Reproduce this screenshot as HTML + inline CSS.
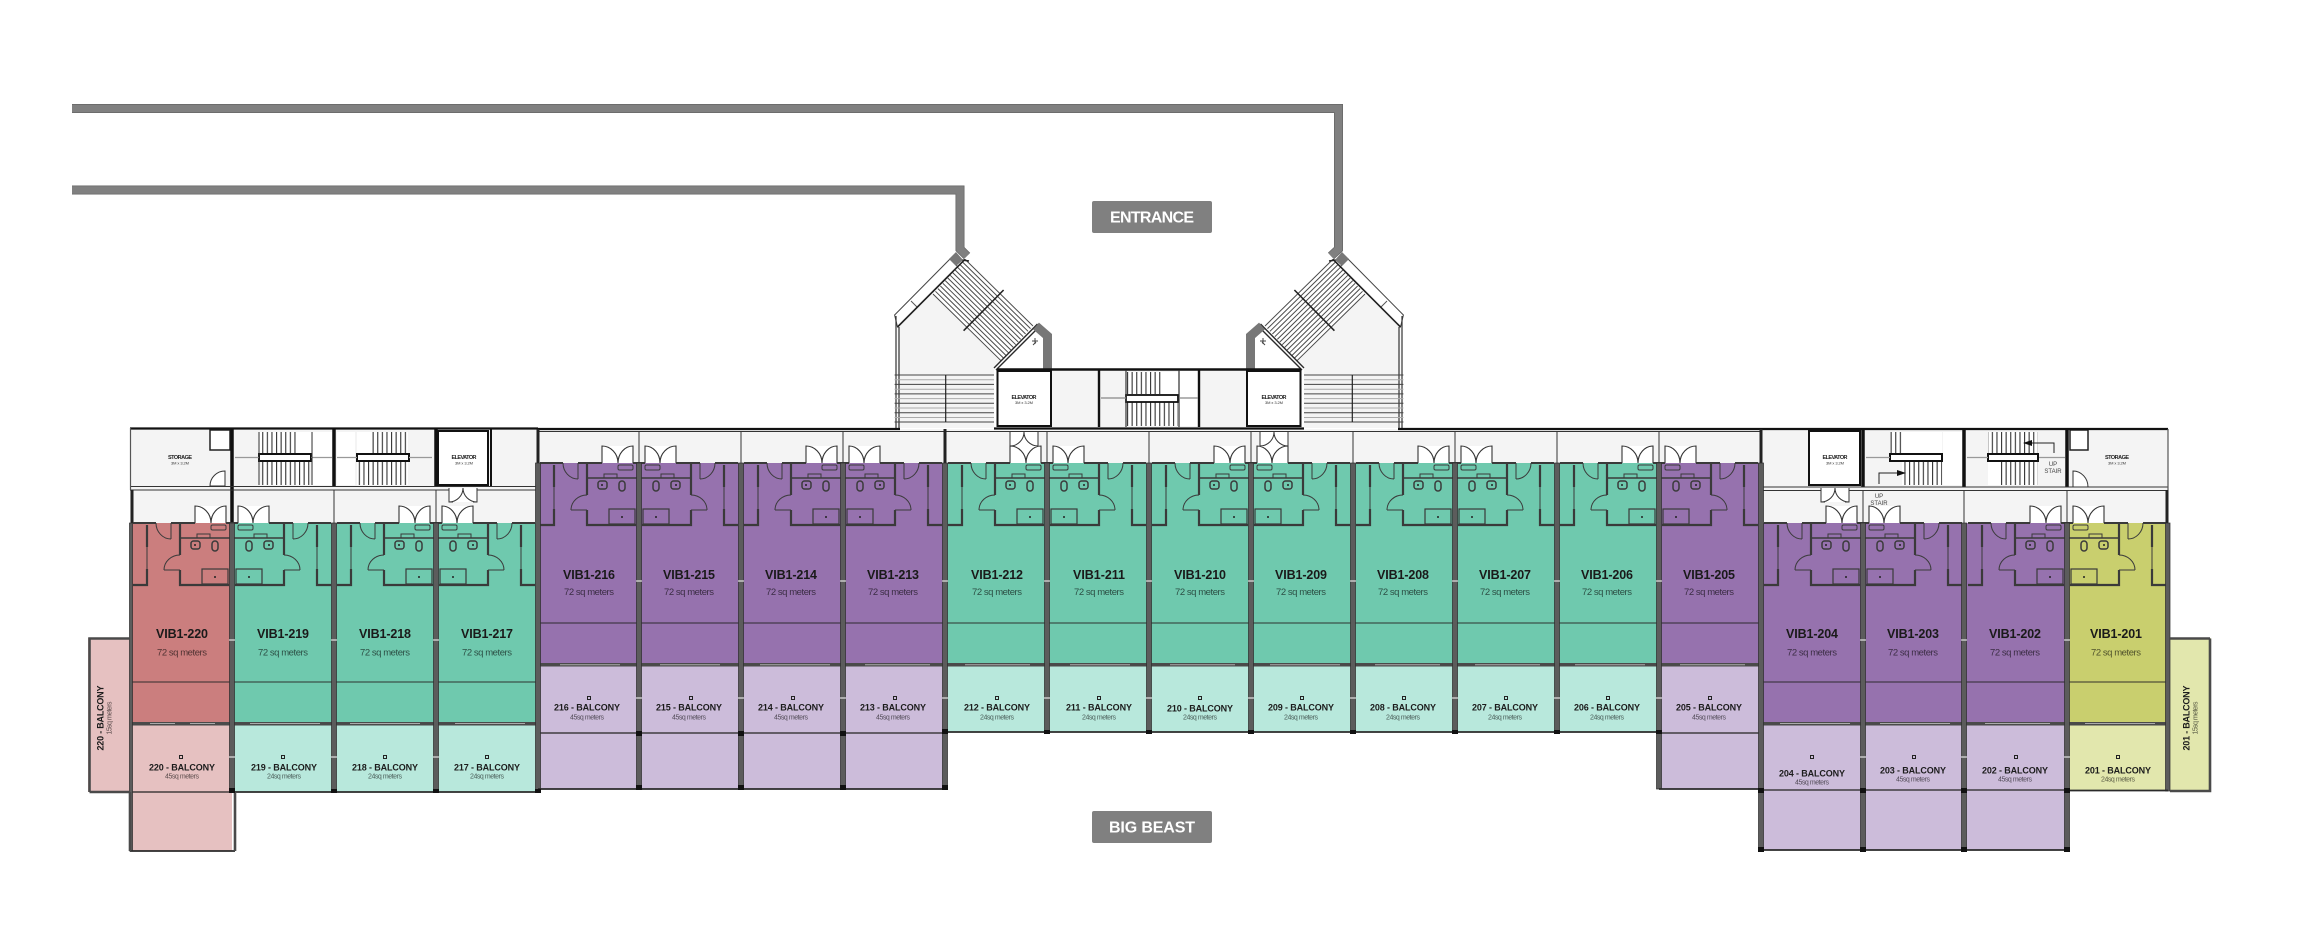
<!DOCTYPE html>
<html><head><meta charset="utf-8"><title>Floor plan</title>
<style>
html,body{margin:0;padding:0;background:#fff}
svg{display:block}
text{font-family:"Liberation Sans",sans-serif;text-anchor:middle}
.u{font-size:12.5px;font-weight:700;fill:#1a1a1a}
.s{font-size:9.5px;fill:rgba(0,0,0,.62)}
.b{font-size:9px;font-weight:700;fill:#1c1c1c}
.t{font-size:7px;fill:rgba(0,0,0,.62)}
.e{font-size:5.5px;font-weight:700;fill:#222}
.e2{font-size:4px;fill:#333}
.up{font-size:6px;fill:#444}
.bd{font-size:16px;font-weight:700;fill:#fff}
</style></head><body>
<svg xmlns="http://www.w3.org/2000/svg" width="2306" height="940" viewBox="0 0 2306 940">
<defs>
<pattern id="v" width="4.6" height="10" patternUnits="userSpaceOnUse"><rect width="4.6" height="10" fill="#fff"/><rect width="1.1" height="10" fill="#333"/></pattern>
<g id="b">
 <g fill="none" stroke="#3a3a3a">
  <path stroke-width="2" d="M-99 0H-76M-61 0H-37M-6 0H0"/>
  <path stroke-width="2.2" d="M-52 0V32M-52 47V62H-3M-85 2V24M-85 46V62H-99"/>
  <path stroke-width="1" d="M-85 24V46M-68 47H-52M-68 47A16 15 0 0 1 -52 32M-61 0V16M-76 0A15 16 0 0 0 -61 16"/>
  <path stroke-width="1.5" d="M-52 15H0"/>
  <rect x="-35" y="11" width="13" height="4" stroke-width="1"/>
  <rect x="-21" y="2" width="15" height="5" rx="1.5" stroke-width="1"/>
  <rect x="-41" y="18" width="9" height="8" rx="2.5" stroke-width="1.5"/>
  <rect x="-20" y="18" width="6" height="10" rx="3" stroke-width="1.5"/>
  <rect x="-30" y="46" width="26" height="15" stroke-width="1.2"/>
 </g>
 <circle cx="-17" cy="54" r="1" fill="#222"/><circle cx="-37" cy="22" r="1" fill="#222"/>
 <path fill="#fff" d="M-37 -17H-6V0H-37Z"/>
 <path fill="none" stroke="#333" stroke-width="1.1" d="M-37 0V-17A16 17 0 0 1 -21 0M-6 0V-17A15 17 0 0 0 -21 0"/>
</g>
<g id="ed"><rect width="28" height="14" fill="#fff"/><path fill="none" stroke="#333" stroke-width="1" d="M0 0V14A14 14 0 0 0 14 0M28 0V14A14 14 0 0 1 14 0M0 14H4M24 14H28"/></g>
<g id="g">
 <path fill="#fff" stroke="#444" stroke-width="1" d="M894.6 315L950 259L958 267L897.5 327Z"/>
 <path fill="#f4f4f4" d="M897.5 327L933 294L1001 361L994 368V428H897.5Z"/>
 <path fill="none" stroke="#333" stroke-width="1.2" d="M896 316V428M899 327V428"/>
 <path fill="none" stroke="#555" stroke-width="1" d="M911 301L917 307"/>
 <path fill="#fff" d="M933 294L965 259.3L1035 326.7L1001 360.7Z"/>
 <path fill="none" stroke="#4a4a4a" stroke-width="1" d="M933 294l68 66.7m-65.54 -69.37l68 66.7m-65.54 -69.37l68 66.7m-65.54 -69.37l68 66.7m-65.54 -69.37l68 66.7m-65.54 -69.37l68 66.7m-65.54 -69.37l68 66.7m-65.54 -69.37l68 66.7m-65.54 -69.37l68 66.7m-65.54 -69.37l68 66.7m-65.54 -69.37l68 66.7m-65.54 -69.37l68 66.7m-65.54 -69.37l68 66.7m-65.54 -69.37l68 66.7"/>
 <path fill="none" stroke="#222" stroke-width="1.6" d="M897.5 327L965 259.3M963.6 330.7L1003.6 290M955 259l14 2"/>
 <path fill="#777" d="M949 259L956 252L963 260L956 266Z"/>
 <path fill="none" stroke="#444" stroke-width="1" d="M894.6 375H994M894.6 384.4H994M894.6 393.9H994M894.6 403.3H994M894.6 412.8H994M894.6 422H994"/>
 <path fill="none" stroke="#aaa" stroke-width="1" d="M894.6 379.7H994M894.6 389.2H994M894.6 398.6H994M894.6 408H994M894.6 417.5H994"/>
 <path fill="none" stroke="#222" stroke-width="1.2" d="M945.7 375V422"/>
 <path fill="#fff" d="M994 368L1037.5 324L1043 335V369Z"/>
 <path fill="none" stroke="#2a2a2a" stroke-width="1.4" d="M994 368L1037.5 324M996 370L1039 327"/>
 <path fill="none" stroke="#777" stroke-width="9" d="M1047.5 369V336L1036 326"/>
 <path fill="none" stroke="#444" stroke-width="1" d="M1032 341l6 0M1035 338l0 6M1033 345l3 -3"/>
</g>
</defs>
<rect width="2306" height="940" fill="#fff"/>

<!-- access walkways -->
<g fill="none" stroke-linejoin="miter">
<path stroke="#666" stroke-width="9" d="M72 190H960V249L967 256"/>
<path stroke="#808080" stroke-width="7.5" d="M72 190H960V249L967 256"/>
<path stroke="#666" stroke-width="9" d="M72 108.5H1338.5V249L1331 256"/>
<path stroke="#808080" stroke-width="7.5" d="M72 108.5H1338.5V249L1331 256"/>
</g>

<!-- entrance gables -->
<use href="#g"/>
<use href="#g" transform="translate(2298 0) scale(-1 1)"/>

<!-- central block -->
<rect x="997" y="369" width="304" height="59" fill="#f4f4f4"/>
<rect x="997.5" y="371" width="53.5" height="55" fill="#fff" stroke="#111" stroke-width="2"/>
<rect x="1247" y="371" width="53.5" height="55" fill="#fff" stroke="#111" stroke-width="2"/>
<rect x="1126" y="372" width="52" height="22" fill="url(#v)"/>
<rect x="1162" y="372" width="16" height="22" fill="#fff"/>
<rect x="1126" y="402" width="52" height="24" fill="url(#v)"/>
<rect x="1126" y="395" width="52" height="7" fill="#fff" stroke="#111" stroke-width="1.8"/>
<rect x="1180" y="371" width="18" height="55" fill="#fff"/>
<path fill="none" stroke="#111" stroke-width="2.4" d="M997 369.5H1301M1099 370V427M1199 370V427"/>
<path fill="none" stroke="#333" stroke-width="1.2" d="M1126 370V427M1179 370V427"/>
<path fill="none" stroke="#888" stroke-width="1.2" d="M1101 398H1126M1180 398H1198"/>
<text class="e" x="1024" y="399" textLength="25">ELEVATOR</text>
<text class="e2" x="1024" y="404" textLength="18">3M x 3.2M</text>
<text class="e" x="1274" y="399" textLength="25">ELEVATOR</text>
<text class="e2" x="1274" y="404" textLength="18">3M x 3.2M</text>

<!-- grey service rows -->
<rect x="130" y="428" width="408" height="95" fill="#f4f4f4"/>
<rect x="538" y="429" width="1223" height="34" fill="#f4f4f4"/>
<rect x="1761" y="429" width="407" height="94" fill="#f4f4f4"/>

<!-- colour fields -->
<rect x="132" y="523" width="100" height="199" fill="#cb7e7e"/>
<rect x="132" y="725" width="100" height="126" fill="#e6c1c1"/>
<rect x="88" y="638" width="42" height="154" fill="#e6c1c1"/>
<rect x="232" y="523" width="306" height="199" fill="#6fc9ae"/>
<rect x="232" y="725" width="306" height="67" fill="#b8e8dc"/>
<rect x="538" y="463" width="407" height="200" fill="#9672ae"/>
<rect x="538" y="666" width="407" height="123" fill="#ccbcda"/>
<rect x="945" y="463" width="714" height="200" fill="#6fc9ae"/>
<rect x="945" y="666" width="714" height="66" fill="#b8e8dc"/>
<rect x="1659" y="463" width="102" height="200" fill="#9672ae"/>
<rect x="1659" y="666" width="102" height="123" fill="#ccbcda"/>
<rect x="1761" y="523" width="306" height="199" fill="#9672ae"/>
<rect x="1761" y="725" width="306" height="125" fill="#ccbcda"/>
<rect x="2067" y="523" width="101" height="199" fill="#c9cf6e"/>
<rect x="2067" y="725" width="101" height="65" fill="#e2e7ad"/>
<rect x="2170" y="638" width="41" height="153" fill="#e2e7ad"/>

<!-- left top rooms -->
<rect x="210" y="430" width="20" height="20" fill="#fff" stroke="#222" stroke-width="1.5"/>
<path fill="#fff" stroke="#333" stroke-width="1" d="M225 486V471A15 15 0 0 0 210 486Z"/>
<rect x="297" y="432" width="15" height="21" fill="#fff"/>
<rect x="313" y="432" width="19" height="53" fill="#fff"/>
<rect x="260" y="432" width="37" height="21" fill="url(#v)"/>
<rect x="262" y="462" width="48" height="23" fill="url(#v)"/>
<rect x="259" y="454" width="52" height="7" fill="#fff" stroke="#111" stroke-width="2"/>
<rect x="337" y="432" width="18" height="53" fill="#fff"/>
<rect x="357" y="432" width="15" height="21" fill="#fff"/>
<rect x="372" y="432" width="36" height="21" fill="url(#v)"/>
<rect x="357" y="462" width="51" height="23" fill="url(#v)"/>
<rect x="357" y="454" width="52" height="7" fill="#fff" stroke="#111" stroke-width="2"/>
<path fill="none" stroke="#999" stroke-width="1.2" d="M235 457.500H259M311 457.500H332M337 457.500H357M409 457.500H432"/>
<path fill="none" stroke="#333" stroke-width="1" d="M259 432V485M312 432V485"/>
<rect x="438" y="431" width="50" height="54" fill="#fff" stroke="#111" stroke-width="2"/>
<path fill="none" stroke="#111" stroke-width="3.5" d="M232 428V523M334 428V486M436 428V486"/>
<path fill="none" stroke="#111" stroke-width="2" d="M491 428V486"/>
<text class="e" x="180" y="459" textLength="24">STORAGE</text>
<text class="e2" x="180" y="464.500" textLength="18">3M x 3.2M</text>
<text class="e" x="464" y="459" textLength="25">ELEVATOR</text>
<text class="e2" x="464" y="464.500" textLength="18">3M x 3.2M</text>

<!-- right top rooms -->
<rect x="1809" y="431" width="51" height="54" fill="#fff" stroke="#111" stroke-width="2"/>
<rect x="1890" y="432" width="52" height="21" fill="#fff"/>
<rect x="1890" y="432" width="12" height="21" fill="url(#v)"/>
<rect x="1890" y="462" width="52" height="23" fill="url(#v)"/>
<rect x="1890" y="462" width="12" height="23" fill="#f4f4f4"/>
<rect x="1890" y="454" width="52" height="7" fill="#fff" stroke="#111" stroke-width="2"/>
<rect x="1943" y="432" width="19" height="53" fill="#fff"/>
<rect x="1988" y="432" width="50" height="21" fill="url(#v)"/>
<rect x="2000" y="462" width="38" height="23" fill="url(#v)"/>
<rect x="1988" y="462" width="12" height="23" fill="#fff"/>
<rect x="1988" y="454" width="50" height="7" fill="#fff" stroke="#111" stroke-width="2"/>
<path fill="none" stroke="#999" stroke-width="1.2" d="M1866 457.500H1890M1967 457.500H1988M2039 457.500H2065"/>
<rect x="2070" y="430" width="18" height="20" fill="#fff" stroke="#222" stroke-width="1.5"/>
<path fill="#fff" stroke="#333" stroke-width="1" d="M2073 487V471A15 16 0 0 1 2088 487Z"/>
<path fill="none" stroke="#111" stroke-width="3.5" d="M1863 429V487M1964 429V487M2067 429V487"/>
<path fill="none" stroke="#222" stroke-width="1" d="M1879 484V473H1899M2054 453V443H2030"/>
<path fill="#111" d="M1906 473L1897 470V476ZM2023 443L2032 440V446Z"/>
<text class="up" x="1879" y="498">UP</text>
<text class="up" x="1879" y="505">STAIR</text>
<text class="up" x="2053" y="466">UP</text>
<text class="up" x="2053" y="473">STAIR</text>
<text class="e" x="1835" y="459" textLength="25">ELEVATOR</text>
<text class="e2" x="1835" y="464.500" textLength="18">3M x 3.2M</text>
<text class="e" x="2117" y="459" textLength="24">STORAGE</text>
<text class="e2" x="2117" y="464.500" textLength="18">3M x 3.2M</text>

<!-- corridor lines -->
<path fill="none" stroke="#333" stroke-width="1" d="M130 486.500H538M130 490H538M1761 487H2168M1761 490.500H2168M538 431.500H1761M334 490V523M436 490V523M1863 490V523M1964 490V523M2067 490V523M639 432V463M741 432V463M843 432V463M946 432V463M1047 432V463M1149 432V463M1251 432V463M1353 432V463M1455 432V463M1557 432V463M1659 432V463"/>
<path fill="none" stroke="#111" stroke-width="2.2" d="M130 428.500H538M538 429H900M1398 429H2168M994 428.500H1304"/>
<path fill="none" stroke="#222" stroke-width="3" d="M132 490V523M2167 490V523M945 429V463M1761 429V463M538 429V490"/>
<path fill="none" stroke="#555" stroke-width="1.2" d="M130.500 428V490M2168 429V490"/>

<!-- elevator doors -->
<use href="#ed" x="449" y="488"/>
<use href="#ed" x="1010" y="432"/>
<use href="#ed" x="1260" y="432"/>
<use href="#ed" x="1821" y="488"/>

<!-- bathrooms -->
<use href="#b" transform="translate(232 523)"/><use href="#b" transform="translate(232 523) scale(-1 1)"/>
<use href="#b" transform="translate(436 523)"/><use href="#b" transform="translate(436 523) scale(-1 1)"/>
<use href="#b" transform="translate(639 463)"/><use href="#b" transform="translate(639 463) scale(-1 1)"/>
<use href="#b" transform="translate(843 463)"/><use href="#b" transform="translate(843 463) scale(-1 1)"/>
<use href="#b" transform="translate(1047 463)"/><use href="#b" transform="translate(1047 463) scale(-1 1)"/>
<use href="#b" transform="translate(1251 463)"/><use href="#b" transform="translate(1251 463) scale(-1 1)"/>
<use href="#b" transform="translate(1455 463)"/><use href="#b" transform="translate(1455 463) scale(-1 1)"/>
<use href="#b" transform="translate(1659 463)"/><use href="#b" transform="translate(1659 463) scale(-1 1)"/>
<use href="#b" transform="translate(1863 523)"/><use href="#b" transform="translate(1863 523) scale(-1 1)"/>
<use href="#b" transform="translate(2067 523)"/><use href="#b" transform="translate(2067 523) scale(-1 1)"/>

<!-- interior cross lines -->
<path fill="none" stroke="rgba(40,40,40,.75)" stroke-width="1.2" d="M132 682H538M538 623H1761M1761 682H2168"/>
<path fill="none" stroke="#222" stroke-width="1.2" d="M132 792H232M538 733H945M1659 733H1761M1761 790H2067"/>

<!-- balcony fronts -->
<rect x="132" y="722" width="406" height="3.500" fill="#4a4a4a"/>
<rect x="538" y="663" width="1223" height="3.500" fill="#4a4a4a"/>
<rect x="1761" y="722" width="407" height="3.500" fill="#4a4a4a"/>
<path fill="none" stroke="#aaa" stroke-width="1" d="M150 723.500H175M190 723.500H215M250 723.500H320M350 723.500H420M455 723.500H525M560 664.700H620M660 664.700H720M760 664.700H830M865 664.700H930M965 664.700H1030M1070 664.700H1130M1170 664.700H1235M1270 664.700H1340M1375 664.700H1440M1475 664.700H1540M1575 664.700H1645M1680 664.700H1745M1780 723.500H1850M1880 723.500H1950M1985 723.500H2050M2085 723.500H2155"/>

<!-- party walls -->
<g fill="#5c5c5c" stroke="#2c2c2c" stroke-width=".7">
<rect x="229.500" y="523" width="5" height="269"/><rect x="331.500" y="523" width="5" height="269"/><rect x="433.500" y="523" width="5" height="269"/>
<rect x="535.500" y="463" width="5" height="329"/>
<rect x="636.500" y="463" width="5" height="326"/><rect x="738.500" y="463" width="5" height="326"/><rect x="840.500" y="463" width="5" height="326"/>
<rect x="942.500" y="463" width="5" height="326"/>
<rect x="1044.500" y="463" width="5" height="269"/><rect x="1146.500" y="463" width="5" height="269"/><rect x="1248.500" y="463" width="5" height="269"/><rect x="1350.500" y="463" width="5" height="269"/><rect x="1452.500" y="463" width="5" height="269"/><rect x="1554.500" y="463" width="5" height="269"/>
<rect x="1656.500" y="463" width="5" height="326"/>
<rect x="1758.500" y="463" width="5" height="387"/>
<rect x="1860.500" y="523" width="5" height="327"/><rect x="1961.500" y="523" width="5" height="327"/><rect x="2064.500" y="523" width="5" height="327"/>
<rect x="2165.500" y="523" width="4.500" height="268"/>
<rect x="129.500" y="523" width="3" height="328"/>
</g>

<!-- balcony outer walls -->
<path fill="none" stroke="#2a2a2a" stroke-width="1.8" d="M232 792H538M538 789H945M945 732H1659M1659 789H1761M2067 790.500H2168M130 851H235M1758 850H2070"/>
<path fill="none" stroke="#4a4a4a" stroke-width="2.6" d="M89.500 792V638.500H130M89.500 792H130M2210 638.500V791H2170M2210 638.500H2170M235 792V851M130 792V851"/>
<g fill="#111">
<rect x="229" y="788" width="6" height="5"/><rect x="331" y="789" width="6" height="4"/><rect x="433" y="789" width="6" height="4"/><rect x="535" y="789" width="6" height="4"/>
<rect x="636" y="731" width="6" height="5"/><rect x="738" y="731" width="6" height="5"/><rect x="840" y="731" width="6" height="5"/><rect x="942" y="729" width="6" height="5"/>
<rect x="636" y="785" width="6" height="5"/><rect x="738" y="785" width="6" height="5"/><rect x="840" y="785" width="6" height="5"/><rect x="942" y="785" width="6" height="5"/>
<rect x="1044" y="730" width="6" height="4"/><rect x="1146" y="730" width="6" height="4"/><rect x="1248" y="730" width="6" height="4"/><rect x="1350" y="730" width="6" height="4"/><rect x="1452" y="730" width="6" height="4"/><rect x="1554" y="730" width="6" height="4"/><rect x="1656" y="730" width="6" height="4"/>
<rect x="1758" y="788" width="6" height="5"/><rect x="1860" y="788" width="6" height="5"/><rect x="1961" y="788" width="6" height="5"/><rect x="2064" y="788" width="6" height="5"/>
<rect x="1860" y="847" width="6" height="5"/><rect x="1961" y="847" width="6" height="5"/><rect x="2064" y="847" width="6" height="5"/><rect x="1758" y="847" width="6" height="5"/>
</g>

<!-- wall ticks -->
<path fill="none" stroke="#fff" stroke-width=".9" d="M229 640h6M331 640h6M433 640h6M229 757h6M331 757h6M433 757h6M636 581h6M738 581h6M840 581h6M942 581h6M1044 581h6M1146 581h6M1248 581h6M1350 581h6M1452 581h6M1554 581h6M1656 581h6M636 698h6M738 698h6M840 698h6M942 698h6M1044 698h6M1146 698h6M1248 698h6M1350 698h6M1452 698h6M1554 698h6M1656 698h6M1860 640h6M1961 640h6M2064 640h6M1860 757h6M1961 757h6M2064 757h6"/>

<!-- small balcony squares -->
<g fill="none" stroke="#222" stroke-width="1">
<rect x="179.500" y="755.500" width="3" height="3"/><rect x="281.500" y="755.500" width="3" height="3"/><rect x="383.500" y="755.500" width="3" height="3"/><rect x="485.500" y="755.500" width="3" height="3"/>
<rect x="587.500" y="696.500" width="3" height="3"/><rect x="689.500" y="696.500" width="3" height="3"/><rect x="791.500" y="696.500" width="3" height="3"/><rect x="893.500" y="696.500" width="3" height="3"/>
<rect x="995.500" y="696.500" width="3" height="3"/><rect x="1097.500" y="696.500" width="3" height="3"/><rect x="1198.500" y="696.500" width="3" height="3"/><rect x="1300.500" y="696.500" width="3" height="3"/>
<rect x="1402.500" y="696.500" width="3" height="3"/><rect x="1504.500" y="696.500" width="3" height="3"/><rect x="1606.500" y="696.500" width="3" height="3"/><rect x="1708.500" y="696.500" width="3" height="3"/>
<rect x="1810.500" y="755.500" width="3" height="3"/><rect x="1912.500" y="755.500" width="3" height="3"/><rect x="2014.500" y="755.500" width="3" height="3"/><rect x="2116.500" y="755.500" width="3" height="3"/>
</g>

<!-- unit labels -->
<text class="u" x="182" y="638" textLength="52">VIB1-220</text><text class="s" x="182" y="655.500" textLength="50">72 sq meters</text>
<text class="u" x="283" y="638" textLength="52">VIB1-219</text><text class="s" x="283" y="655.500" textLength="50">72 sq meters</text>
<text class="u" x="385" y="638" textLength="52">VIB1-218</text><text class="s" x="385" y="655.500" textLength="50">72 sq meters</text>
<text class="u" x="487" y="638" textLength="52">VIB1-217</text><text class="s" x="487" y="655.500" textLength="50">72 sq meters</text>
<text class="u" x="589" y="579" textLength="52">VIB1-216</text><text class="s" x="589" y="595" textLength="50">72 sq meters</text>
<text class="u" x="689" y="579" textLength="52">VIB1-215</text><text class="s" x="689" y="595" textLength="50">72 sq meters</text>
<text class="u" x="791" y="579" textLength="52">VIB1-214</text><text class="s" x="791" y="595" textLength="50">72 sq meters</text>
<text class="u" x="893" y="579" textLength="52">VIB1-213</text><text class="s" x="893" y="595" textLength="50">72 sq meters</text>
<text class="u" x="997" y="579" textLength="52">VIB1-212</text><text class="s" x="997" y="595" textLength="50">72 sq meters</text>
<text class="u" x="1099" y="579" textLength="52">VIB1-211</text><text class="s" x="1099" y="595" textLength="50">72 sq meters</text>
<text class="u" x="1200" y="579" textLength="52">VIB1-210</text><text class="s" x="1200" y="595" textLength="50">72 sq meters</text>
<text class="u" x="1301" y="579" textLength="52">VIB1-209</text><text class="s" x="1301" y="595" textLength="50">72 sq meters</text>
<text class="u" x="1403" y="579" textLength="52">VIB1-208</text><text class="s" x="1403" y="595" textLength="50">72 sq meters</text>
<text class="u" x="1505" y="579" textLength="52">VIB1-207</text><text class="s" x="1505" y="595" textLength="50">72 sq meters</text>
<text class="u" x="1607" y="579" textLength="52">VIB1-206</text><text class="s" x="1607" y="595" textLength="50">72 sq meters</text>
<text class="u" x="1709" y="579" textLength="52">VIB1-205</text><text class="s" x="1709" y="595" textLength="50">72 sq meters</text>
<text class="u" x="1812" y="638" textLength="52">VIB1-204</text><text class="s" x="1812" y="655.500" textLength="50">72 sq meters</text>
<text class="u" x="1913" y="638" textLength="52">VIB1-203</text><text class="s" x="1913" y="655.500" textLength="50">72 sq meters</text>
<text class="u" x="2015" y="638" textLength="52">VIB1-202</text><text class="s" x="2015" y="655.500" textLength="50">72 sq meters</text>
<text class="u" x="2116" y="638" textLength="52">VIB1-201</text><text class="s" x="2116" y="655.500" textLength="50">72 sq meters</text>

<!-- balcony labels -->
<text class="b" x="182" y="770.500" textLength="66">220 - BALCONY</text><text class="t" x="182" y="778.500" textLength="34">45sq meters</text>
<text class="b" x="284" y="770.500" textLength="66">219 - BALCONY</text><text class="t" x="284" y="778.500" textLength="34">24sq meters</text>
<text class="b" x="385" y="770.500" textLength="66">218 - BALCONY</text><text class="t" x="385" y="778.500" textLength="34">24sq meters</text>
<text class="b" x="487" y="770.500" textLength="66">217 - BALCONY</text><text class="t" x="487" y="778.500" textLength="34">24sq meters</text>
<text class="b" x="587" y="710.500" textLength="66">216 - BALCONY</text><text class="t" x="587" y="719.500" textLength="34">45sq meters</text>
<text class="b" x="689" y="710.500" textLength="66">215 - BALCONY</text><text class="t" x="689" y="719.500" textLength="34">45sq meters</text>
<text class="b" x="791" y="710.500" textLength="66">214 - BALCONY</text><text class="t" x="791" y="719.500" textLength="34">45sq meters</text>
<text class="b" x="893" y="710.500" textLength="66">213 - BALCONY</text><text class="t" x="893" y="719.500" textLength="34">45sq meters</text>
<text class="b" x="997" y="710.500" textLength="66">212 - BALCONY</text><text class="t" x="997" y="719.500" textLength="34">24sq meters</text>
<text class="b" x="1099" y="710.500" textLength="66">211 - BALCONY</text><text class="t" x="1099" y="719.500" textLength="34">24sq meters</text>
<text class="b" x="1200" y="711.500" textLength="66">210 - BALCONY</text><text class="t" x="1200" y="719.500" textLength="34">24sq meters</text>
<text class="b" x="1301" y="710.500" textLength="66">209 - BALCONY</text><text class="t" x="1301" y="719.500" textLength="34">24sq meters</text>
<text class="b" x="1403" y="710.500" textLength="66">208 - BALCONY</text><text class="t" x="1403" y="719.500" textLength="34">24sq meters</text>
<text class="b" x="1505" y="710.500" textLength="66">207 - BALCONY</text><text class="t" x="1505" y="719.500" textLength="34">24sq meters</text>
<text class="b" x="1607" y="710.500" textLength="66">206 - BALCONY</text><text class="t" x="1607" y="719.500" textLength="34">24sq meters</text>
<text class="b" x="1709" y="710.500" textLength="66">205 - BALCONY</text><text class="t" x="1709" y="719.500" textLength="34">45sq meters</text>
<text class="b" x="1812" y="776.500" textLength="66">204 - BALCONY</text><text class="t" x="1812" y="784.500" textLength="34">45sq meters</text>
<text class="b" x="1913" y="773.500" textLength="66">203 - BALCONY</text><text class="t" x="1913" y="781.500" textLength="34">45sq meters</text>
<text class="b" x="2015" y="773.500" textLength="66">202 - BALCONY</text><text class="t" x="2015" y="781.500" textLength="34">45sq meters</text>
<text class="b" x="2118" y="773.500" textLength="66">201 - BALCONY</text><text class="t" x="2118" y="781.500" textLength="34">24sq meters</text>
<text class="b" transform="translate(103.500 718) rotate(-90)" textLength="65">220 - BALCONY</text>
<text class="t" transform="translate(111.500 718) rotate(-90)" textLength="33">15sq meters</text>
<text class="b" transform="translate(2189.500 718) rotate(-90)" textLength="65">201 - BALCONY</text>
<text class="t" transform="translate(2197.500 718) rotate(-90)" textLength="33">15sq meters</text>

<!-- badges -->
<rect x="1092" y="201" width="120" height="32" rx="2" fill="#808080"/>
<text class="bd" x="1152" y="222.500" textLength="84">ENTRANCE</text>
<rect x="1092" y="811" width="120" height="32" rx="2" fill="#808080"/>
<text class="bd" x="1152" y="832.500" textLength="86">BIG BEAST</text>
</svg>
</body></html>
